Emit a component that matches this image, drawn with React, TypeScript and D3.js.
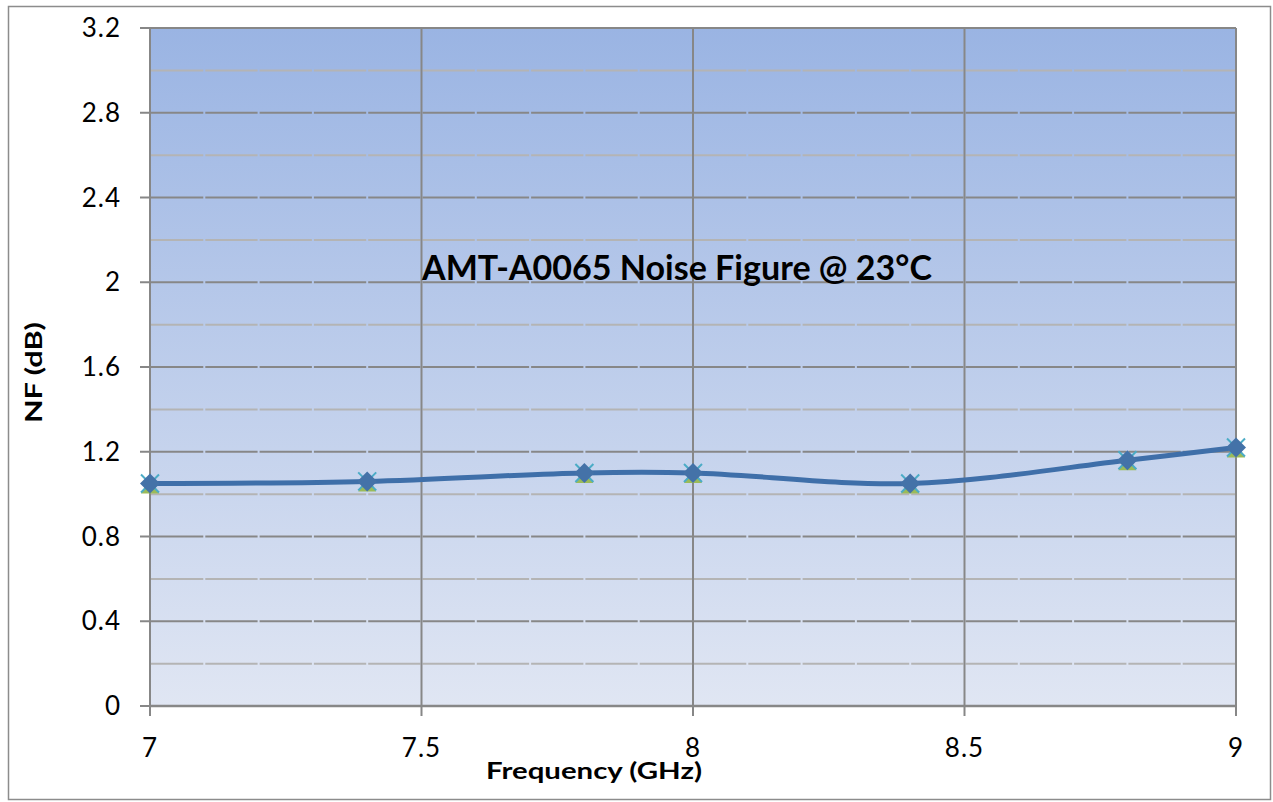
import * as d3 from 'd3';

const W = 1273;
const H = 802;
const M = { left: 150, right: 1236, top: 28, bottom: 706 };

const freqs = [7, 7.4, 7.8, 8, 8.4, 8.8, 9];
const nfDiamond = [1.05, 1.06, 1.1, 1.1, 1.05, 1.16, 1.22];
const nfTriangle = [1.05, 1.06, 1.1, 1.1, 1.05, 1.16, 1.22];
const nfCross = [1.05, 1.06, 1.1, 1.1, 1.05, 1.16, 1.22];

const yTicks = [0, 0.4, 0.8, 1.2, 1.6, 2, 2.4, 2.8, 3.2];
const yMinor = [0.2, 0.6, 1.0, 1.4, 1.8, 2.2, 2.6, 3.0];
const xTicks = [7, 7.5, 8, 8.5, 9];
const xMinor = d3.range(7.1, 9, 0.1);

const FONT = 'Lato, "Open Sans", sans-serif';
const MAJOR = '#878787';
const MINOR = '#b4b4b4';

export default function App() {
  const x = d3.scaleLinear().domain([7, 9]).range([M.left, M.right]);
  const y = d3.scaleLinear().domain([0, 3.2]).range([M.bottom, M.top]);

  const pts = freqs.map((f, i) => [f, nfDiamond[i]] as [number, number]);
  const path = d3
    .line<[number, number]>()
    .x(d => x(d[0]))
    .y(d => y(d[1]))
    .curve(d3.curveCatmullRom.alpha(0.5))(pts);

  return (
    <svg width={W} height={H} style={{ position: 'absolute', left: 0, top: 0 }}>
      <defs>
        <linearGradient id="bg" gradientUnits="userSpaceOnUse" x1="0" y1={M.top} x2="0" y2={M.bottom}>
          <stop offset="0" stopColor="#9ab4e3" />
          <stop offset="1" stopColor="#e0e6f3" />
        </linearGradient>
      </defs>
      <rect x={0} y={0} width={W} height={H} fill="#fff" />
      <rect x={8.5} y={6.5} width={1262} height={793} fill="#fff" stroke="#8c8c8c" strokeWidth={1.5} />
      <rect x={M.left} y={M.top} width={M.right - M.left} height={M.bottom - M.top} fill="url(#bg)" />

      {yMinor.map(v => (
        <line key={'mn' + v} x1={M.left} x2={M.right} y1={y(v)} y2={y(v)} stroke={MINOR} strokeWidth={2} />
      ))}
      {yTicks.map(v => (
        <line key={'mj' + v} x1={M.left - 10} x2={M.right} y1={y(v)} y2={y(v)} stroke={MAJOR} strokeWidth={2} />
      ))}
      {/* breaks in the horizontal grid where the minor vertical ticks fall */}
      {xMinor.map(v => (
        <line key={'xm' + v} x1={x(v)} x2={x(v)} y1={M.top + 2} y2={M.bottom - 2} stroke="url(#bg)" strokeWidth={2} />
      ))}
      {xTicks.map(v => (
        <line key={'xt' + v} x1={x(v)} x2={x(v)} y1={M.top} y2={M.bottom + 10} stroke={MAJOR} strokeWidth={2} />
      ))}
      <line x1={M.left} x2={M.right} y1={M.bottom} y2={M.bottom} stroke={MAJOR} strokeWidth={2.5} />

      {yTicks.map(v => (
        <text key={'yl' + v} x={121} y={y(v) + 9} textAnchor="end" fontFamily={FONT} fontSize={26} letterSpacing={1} fill="#000">
          {v}
        </text>
      ))}
      {xTicks.map(v => (
        <text key={'xl' + v} x={x(v)} y={757} textAnchor="middle" fontFamily={FONT} fontSize={26} letterSpacing={1} fill="#000">
          {v}
        </text>
      ))}

      <text x={422} y={280} textLength={510} lengthAdjust="spacingAndGlyphs" fontFamily={FONT} fontWeight="bold" fontSize={34} fill="#000">
        AMT-A0065 Noise Figure @ 23°C
      </text>
      <text x={486} y={779} textLength={216} lengthAdjust="spacingAndGlyphs" fontFamily={FONT} fontWeight="bold" fontSize={23} fill="#000">
        Frequency (GHz)
      </text>
      <text
        transform="translate(42, 423) rotate(-90)"
        textLength={101}
        lengthAdjust="spacingAndGlyphs"
        fontFamily={FONT}
        fontWeight="bold"
        fontSize={23}
        fill="#000"
      >
        NF  (dB)
      </text>

      {freqs.map((f, i) => {
        const cx = x(f);
        const cy = y(nfTriangle[i]);
        return (
          <path
            key={'tri' + i}
            d={`M${cx},${cy - 6} L${cx + 9},${cy + 10} L${cx - 9},${cy + 10} Z`}
            fill="#9bbb59"
          />
        );
      })}
      {freqs.map((f, i) => {
        const cx = x(f);
        const cy = y(nfCross[i]);
        return (
          <path
            key={'x' + i}
            d={`M${cx - 9},${cy - 9} L${cx + 9},${cy + 9} M${cx + 9},${cy - 9} L${cx - 9},${cy + 9}`}
            stroke="#4bacc6"
            strokeWidth={2}
          />
        );
      })}
      <path d={path ?? ''} fill="none" stroke="#3f6fa9" strokeWidth={5} strokeLinecap="round" />
      {freqs.map((f, i) => {
        const cx = x(f);
        const cy = y(nfDiamond[i]);
        return (
          <path
            key={'d' + i}
            d={`M${cx},${cy - 10} L${cx + 10},${cy} L${cx},${cy + 10} L${cx - 10},${cy} Z`}
            fill="#4472a8"
          />
        );
      })}
    </svg>
  );
}
